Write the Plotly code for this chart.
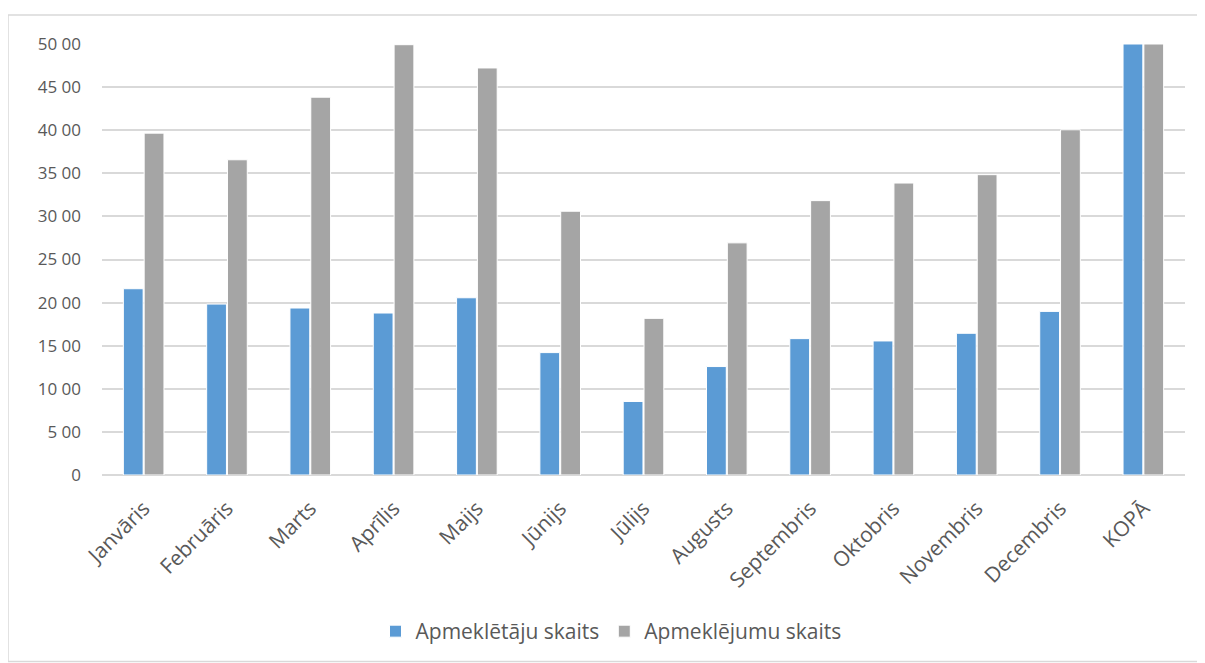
import plotly.graph_objects as go

categories = ["Janvāris", "Februāris", "Marts", "Aprīlis", "Maijs", "Jūnijs", "Jūlijs",
              "Augusts", "Septembris", "Oktobris", "Novembris", "Decembris", "KOPĀ"]
apmekletaji = [2161, 1983, 1937, 1879, 2056, 1420, 853, 1258, 1582, 1555, 1644, 1898, 5000]
apmeklejumi = [3966, 3657, 4383, 4992, 4722, 3060, 1817, 2693, 3183, 3387, 3484, 4005, 5000]
tick_vals = [0, 500, 1000, 1500, 2000, 2500, 3000, 3500, 4000, 4500, 5000]
tick_text = ["0", "5 00", "10 00", "15 00", "20 00", "25 00", "30 00", "35 00", "40 00", "45 00", "50 00"]

FONT = "'Open Sans', Lato, sans-serif"
TXT = "#595959"

W, H = 1197, 655
L, T, PW, PH = 94, 36, 1083, 432

fig = go.Figure()
fig.add_trace(go.Bar(x=categories, y=apmekletaji, name="Apmeklētāju skaits",
                     marker=dict(color="#5B9BD5", line=dict(color="white", width=1))))
fig.add_trace(go.Bar(x=categories, y=apmeklejumi, name="Apmeklējumu skaits",
                     marker=dict(color="#A5A5A5", line=dict(color="white", width=1))))

fig.update_layout(
    width=W, height=H,
    margin=dict(l=L, r=W - L - PW, t=T, b=H - T - PH),
    paper_bgcolor="white", plot_bgcolor="white",
    barmode="group", bargap=0.5, bargroupgap=0.05,
    font=dict(family=FONT, color=TXT, size=15),
    showlegend=True,
    legend=dict(orientation="h", x=0.47, xanchor="center", y=-0.36, yanchor="middle",
                font=dict(size=21, color=TXT), traceorder="normal", itemwidth=30,
                tracegroupgap=0),
    xaxis=dict(tickangle=-45, tickfont=dict(size=21, color=TXT), showgrid=False,
               showline=False, ticks="", ticklabelstandoff=16),
    yaxis=dict(range=[0, 5000], tickvals=tick_vals, ticktext=tick_text,
               tickfont=dict(size=17, color=TXT), gridcolor="#D9D9D9", gridwidth=2,
               zeroline=True, zerolinecolor="#D9D9D9", zerolinewidth=2,
               showline=False, ticks="", ticklabelstandoff=20),
    shapes=[dict(type="rect", xref="paper", yref="paper",
                 x0=(0 - L) / PW, x1=(1195 - L) / PW,
                 y0=(T + PH - H) / PH, y1=1 + (T - 7) / PH,
                 line=dict(color="#D9D9D9", width=1.5), fillcolor="rgba(0,0,0,0)", layer="below")],
)

fig.write_html("out.html")
